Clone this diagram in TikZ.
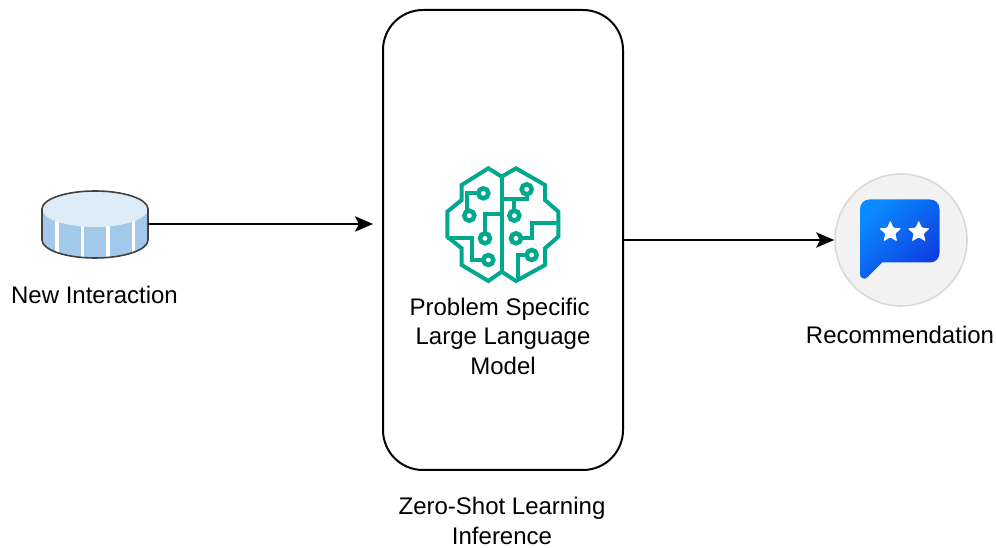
\documentclass[tikz,border=0pt]{standalone}
\usepackage{fontspec}
\setmainfont{Liberation Sans}
\usetikzlibrary{arrows.meta,shapes.geometric}
\definecolor{brainc}{HTML}{01A88D}
\definecolor{dbtop}{HTML}{DEECF8}
\definecolor{dbside}{HTML}{A2C9E9}
\definecolor{bubblea}{HTML}{0A8AFF}
\definecolor{bubbleb}{HTML}{0F3CE0}
\tikzset{
  lbl/.style = {inner sep=0pt, align=center, font=\fontsize{18}{22.1}\selectfont},
  conn/.style = {->, >={Stealth[length=13.5pt,width=11.5pt,inset=3pt]}, line width=1.6pt},
  brainline/.style = {draw=brainc, line width=3pt, line join=miter},
  starmark/.style = {star, star points=5, star point ratio=2.2, fill=white, inner sep=0pt, minimum size=17.5pt, rounded corners=0.8pt}
}
\begin{document}
\begin{tikzpicture}[x=0.75pt, y=-0.75pt]
   \useasboundingbox (0,0) rectangle (996,548);
   % database
   \node[minimum width=79.5pt, minimum height=49.5pt, inner sep=0pt] (db) at (95,224) {};
   \begin{scope}
     \clip (42,209) -- (42,240) arc[x radius=53, y radius=18, start angle=180, end angle=0] -- (148,209) -- cycle;
     \fill[dbside] (42,191) rectangle (148,258);
     \foreach \x in {57,82.5,108,133.5}
       \draw[white, line width=2.4pt] (\x,195) -- (\x,260);
   \end{scope}
   \draw[fill=dbtop, draw=none] (95,209) ellipse[x radius=53, y radius=18];
   \draw[draw=black!75, line width=1.2pt] (42,209) arc[x radius=53, y radius=18, start angle=180, end angle=360] -- (148,240) arc[x radius=53, y radius=18, start angle=0, end angle=180] -- cycle;
   \node[lbl] (dbtext) at (94.5,295) {New Interaction};
   % model box
   \node[draw, line width=1.5pt, rounded corners=30pt, minimum width=180pt, minimum height=345pt, inner sep=0pt] (llm) at (503,240) {};
   \node[lbl] (llmtext) at (503,336) {Problem Specific\hspace*{0.278em}\\Large Language\\Model};
   \node[lbl] (inftext) at (502,521) {Zero-Shot Learning\\Inference};
   % brain icon
   \begin{scope}[shift={(430,155)}, x=0.25pt, y=-0.25pt]
     \draw[brainline] (215,65) -- (175,40) -- (95,90) -- (95,135) -- (52,170) -- (52,245) -- (95,280) -- (95,330) -- (175,378) -- (215,350) -- (258,378) -- (345,330) -- (345,280) -- (385,245) -- (385,170) -- (345,135) -- (345,90) -- (258,40) -- (215,65) -- cycle;
     \draw[brainline] (215,65) -- (215,350);
     \draw[brainline] (160,115) -- (110,115) -- (110,170);
     \draw[brainline] (165,250) -- (165,178) -- (215,178);
     \draw[brainline] (175,315) -- (125,315) -- (125,250) -- (52,250);
     \draw[brainline] (290,103) -- (290,132) -- (215,132);
     \draw[brainline] (253,182) -- (253,132);
     \draw[brainline] (258,250) -- (305,250) -- (305,205) -- (385,205);
     \draw[brainline] (305,300) -- (265,300) -- (265,368);
     \foreach \x/\y in {160/115, 118/182, 165/250, 175/315, 290/103, 253/182, 258/250, 305/300}
       \draw[brainline, line width=3.4pt, fill=white] (\x,\y) circle (15);
   \end{scope}
   % recommendation icon
   \node[circle, draw=black!15, line width=1.2pt, fill=black!5, minimum size=99pt, inner sep=0pt] (rec) at (901,240) {};
   \shade[left color=bubblea, right color=bubbleb, shading angle=45, rounded corners=7pt]
     (900,199.5) -- (939.5,199.5) -- (939.5,262.5) [sharp corners] -- (882,262.5) [rounded corners=2pt] -- (865,279.5) -- (860,277) [rounded corners=7pt] -- (860,199.5) -- cycle;
   \node[starmark] (star1) at (890.3,232) {};
   \node[starmark] (star2) at (918.7,232) {};
   \node[lbl] (rectext) at (900,335) {Recommendation};
   % connectors
   \coordinate (llmin) at (373,224);
   \draw[conn] (db.east) -- (llmin);
   \draw[conn] (llm.east) -- (rec.west);
\end{tikzpicture}
\end{document}
